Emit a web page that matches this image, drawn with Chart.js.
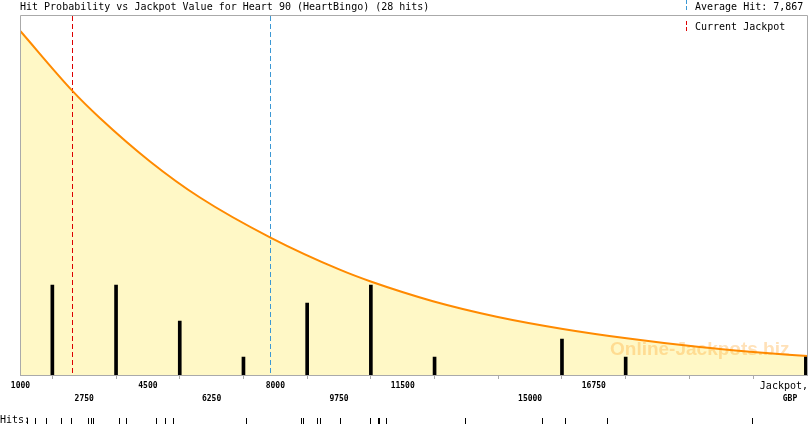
<!DOCTYPE html>
<html>
<head>
<meta charset="utf-8">
<script src="https://cdn.jsdelivr.net/npm/chart.js@4.4.1/dist/chart.umd.min.js"></script>
<style>
html,body{margin:0;padding:0;background:#fff;}
#c{display:block;}
</style>
</head>
<body>
<canvas id="c" width="810" height="425" style="width:810px;height:425px"></canvas>
<script>
// ---- data ----
const TITLE = 'Hit Probability vs Jackpot Value for Heart 90 (HeartBingo) (28 hits)';
const AVERAGE_HIT = 7867;
const CURRENT_JACKPOT = 2418;
const AVERAGE_LABEL = 'Average Hit: 7,867';
const CURRENT_LABEL = 'Current Jackpot';
const AXIS_TITLE = 'Jackpot,';
const AXIS_UNIT = 'GBP';
const HITS_LABEL = 'Hits:';
const WATERMARK = 'Online-Jackpots.biz';

// histogram of hits (bin centres, hit counts)
const BIN_CENTERS = [1875, 3625, 5375, 7125, 8875, 10625, 12375, 15875, 17625, 22575];
const BIN_HITS = [5, 5, 3, 1, 4, 5, 1, 2, 1, 1];

// probability curve (in hit-count units of the same axis)
const CURVE_X = [1000, 2420, 3180, 4550, 5930, 7880, 9770, 10640, 12330, 14080, 15900, 17650, 19660, 21040, 22620];
const CURVE_Y = [19.1, 15.8, 14.28, 11.88, 9.86, 7.62, 5.85, 5.18, 4.1, 3.24, 2.56, 2.04, 1.55, 1.29, 1.05];

// individual hits (jackpot values when won)
const HIT_VALUES = [1192, 1412, 1714, 2099, 2374, 2841, 2923, 3005, 3709, 3901,
  4736, 4964, 5192, 7208, 8692, 8763, 9148, 9222, 9790, 10595,
  10823, 10856, 11054, 13224, 15340, 15961, 17114, 21086];

// x axis ticks and the row each label sits on (0 = upper, 1 = lower, -1 = no label)
const TICK_VALUES = [1000, 2750, 4500, 6250, 8000, 9750, 11500, 13250, 15000, 16750, 18500, 20250, 22000];
const TICK_ROWS   = [0, 1, 0, 1, 0, 1, 0, -1, 1, 0, -1, -1, -1];
const X_MIN = 1000, X_MAX = 22620;
const Y_MAX = 20;

const MONO = '"DejaVu Sans Mono", "Liberation Mono", monospace';

const deco = {
  id: 'deco',
  beforeDraw(chart) {
    const ctx = chart.ctx;
    ctx.save();
    ctx.fillStyle = '#fff';
    ctx.fillRect(0, 0, chart.width, chart.height);
    ctx.restore();
  },
  beforeDatasetsDraw(chart) {
    const {ctx, chartArea: a, scales: {x}} = chart;
    ctx.save();
    ctx.beginPath();
    ctx.rect(a.left, a.top, a.right - a.left, a.bottom - a.top);
    ctx.clip();
    // watermark
    ctx.font = 'bold 19px "Liberation Sans", Arial, sans-serif';
    ctx.fillStyle = 'rgba(255,165,40,0.33)';
    ctx.textBaseline = 'alphabetic';
    ctx.textAlign = 'left';
    ctx.fillText(WATERMARK, 610, 355);
    // dashed reference lines
    ctx.lineWidth = 1;
    ctx.setLineDash([5, 3]);
    const lines = [[CURRENT_JACKPOT, '#dd0000'], [AVERAGE_HIT, '#3b98d4']];
    lines.forEach(([v, col]) => {
      const px = Math.round(x.getPixelForValue(v)) + 0.5;
      ctx.strokeStyle = col;
      ctx.beginPath();
      ctx.moveTo(px, a.top + 1);
      ctx.lineTo(px, a.bottom);
      ctx.stroke();
    });
    ctx.restore();
  },
  afterDraw(chart) {
    const {ctx, chartArea: a, scales: {x}} = chart;
    ctx.save();
    // plot border
    ctx.strokeStyle = '#aaaaaa';
    ctx.lineWidth = 1;
    const x0 = Math.floor(a.left) + 0.5, y0 = Math.floor(a.top) + 0.5;
    const x1 = Math.floor(a.right) + 0.5, y1 = Math.floor(a.bottom) + 0.5;
    ctx.beginPath();
    ctx.moveTo(x0, y1); ctx.lineTo(x0, y0); ctx.lineTo(x1, y0); ctx.lineTo(x1, y1);
    ctx.stroke();

    // title
    ctx.fillStyle = '#000';
    ctx.font = '10px ' + MONO;
    ctx.textBaseline = 'alphabetic';
    ctx.textAlign = 'left';
    ctx.fillText(TITLE, 20, 10);

    // legend
    ctx.fillText(AVERAGE_LABEL, 695, 10);
    ctx.fillText(CURRENT_LABEL, 695, 30);
    ctx.setLineDash([4, 2]);
    ctx.strokeStyle = '#3b98d4';
    ctx.beginPath(); ctx.moveTo(686.5, 0); ctx.lineTo(686.5, 12); ctx.stroke();
    ctx.strokeStyle = '#dd0000';
    ctx.beginPath(); ctx.moveTo(686.5, 21); ctx.lineTo(686.5, 33); ctx.stroke();
    ctx.setLineDash([]);

    // axis title
    ctx.textAlign = 'right';
    ctx.fillText(AXIS_TITLE, 808, 389);
    ctx.textAlign = 'center';
    ctx.font = 'bold 8px ' + MONO;
    ctx.fillText(AXIS_UNIT, 790, 401);

    // hits row
    ctx.textAlign = 'left';
    ctx.font = '10px ' + MONO;
    ctx.fillText(HITS_LABEL, 0, 423);
    ctx.strokeStyle = '#000';
    HIT_VALUES.forEach(v => {
      const px = Math.round(x.getPixelForValue(v)) + 0.5;
      ctx.beginPath();
      ctx.moveTo(px, 418);
      ctx.lineTo(px, 424);
      ctx.stroke();
    });
    ctx.restore();
  }
};

new Chart(document.getElementById('c'), {
  type: 'bar',
  data: {
    datasets: [
      {
        type: 'bar',
        data: BIN_CENTERS.map((c, i) => ({x: c, y: BIN_HITS[i]})),
        backgroundColor: '#000',
        borderWidth: 0,
        barThickness: 3,
        order: 0
      },
      {
        type: 'line',
        data: CURVE_X.map((v, i) => ({x: v, y: CURVE_Y[i]})),
        borderColor: '#ff8a00',
        borderWidth: 2,
        backgroundColor: '#fff8c6',
        fill: 'origin',
        pointRadius: 0,
        cubicInterpolationMode: 'monotone',
        order: 1
      }
    ]
  },
  options: {
    responsive: false,
    animation: false,
    devicePixelRatio: 1,
    layout: {padding: {left: 20.5, right: 2.5, top: 15, bottom: 0}},
    plugins: {
      legend: {display: false},
      tooltip: {enabled: false},
      title: {display: false},
      filler: {drawTime: 'beforeDatasetsDraw'}
    },
    scales: {
      x: {
        type: 'linear',
        min: X_MIN,
        max: X_MAX,
        offset: false,
        afterBuildTicks: s => { s.ticks = TICK_VALUES.map(v => ({value: v})); },
        afterFit: s => { s.height = 50; },
        grid: {drawOnChartArea: false, drawTicks: true, tickLength: 4, color: '#aaaaaa'},
        border: {color: '#aaaaaa'},
        ticks: {
          autoSkip: false,
          maxRotation: 0,
          minRotation: 0,
          padding: 1,
          color: '#000',
          font: {family: MONO, size: 8, weight: 'bold', lineHeight: 1.55},
          callback: (value) => {
            const i = TICK_VALUES.indexOf(value);
            if (i < 0 || TICK_ROWS[i] < 0) return '';
            return TICK_ROWS[i] === 0 ? String(value) : ['', String(value)];
          }
        }
      },
      y: {
        display: false,
        min: 0,
        max: Y_MAX
      }
    }
  },
  plugins: [deco]
});
</script>
</body>
</html>
